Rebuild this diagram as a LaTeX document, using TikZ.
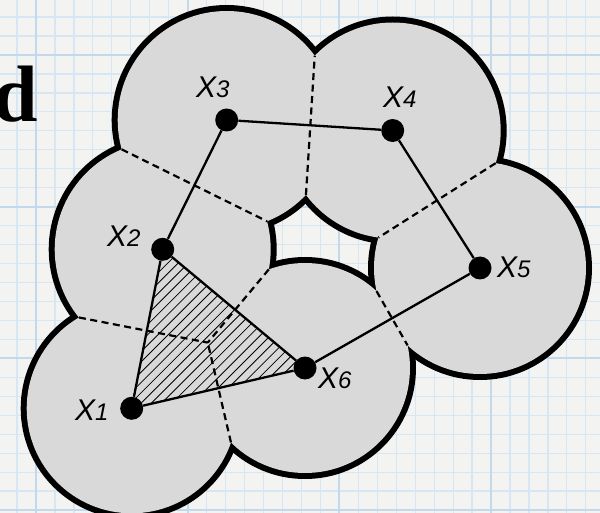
\documentclass[tikz,border=0pt]{standalone}
\usepackage{fontspec}
\setmainfont{Liberation Sans}
\newfontfamily\titlefont{Liberation Serif}
\usetikzlibrary{calc,intersections}
\definecolor{paper}{RGB}{243,243,242}
\definecolor{gridminor}{RGB}{214,230,242}
\definecolor{gridmajor}{RGB}{194,217,236}
\definecolor{diskgray}{RGB}{217,217,217}
\newcommand\xlab[1]{{\fontsize{30}{30}\selectfont\itshape X}{\fontsize{24}{24}\selectfont\itshape #1}}
\begin{document}
\begin{tikzpicture}[x=1pt,y=-1pt,
  minorline/.style={draw=gridminor,line width=1.2pt},
  majorline/.style={draw=gridmajor,line width=2pt},
  outline/.style={draw=black,line width=12pt},
  disk/.style={fill=diskgray},
  link/.style={line width=2.3pt},
  voronoi/.style={line width=2.2pt,dash pattern=on 7pt off 4.5pt},
  hatch/.style={line width=0.8pt},
  dot/.style={circle,fill=black,inner sep=0pt,minimum size=23pt},
  lab/.style={inner sep=0pt,anchor=base west}]
\useasboundingbox (0,0) rectangle (600,513);
\fill[paper] (0,0) rectangle (600,513);
% grid
\foreach \k in {-2,...,31}{
  \draw[minorline] ({36+18.96*\k},0) -- ({36+18.96*\k},513);
  \draw[minorline] (0,{55+18.96*\k}) -- (600,{55+18.96*\k});
}
\foreach \k in {0,8,16,24}{
  \draw[majorline] ({36+18.96*\k},0) -- ({36+18.96*\k},513);
  \draw[majorline] (0,{55+18.96*\k}) -- (600,{55+18.96*\k});
}
% sites
\coordinate (p1) at (131.7,408.3);
\coordinate (p2) at (162.7,249.3);
\coordinate (p3) at (226.7,120);
\coordinate (p4) at (392.7,130.5);
\coordinate (p5) at (480,268);
\coordinate (p6) at (305,368);
% union of disks
\foreach \i/\r in {1/105,2/108,3/109,4/108,5/106,6/105}
  \draw[outline] (p\i) circle[radius=\r];
\foreach \i/\r in {1/105,2/108,3/109,4/108,5/106,6/105}
  \fill[disk] (p\i) circle[radius=\r];
% paths for intersections
\path[name path=C1] (p1) circle[radius=105];
\path[name path=C2] (p2) circle[radius=108];
\path[name path=C3] (p3) circle[radius=109];
\path[name path=C4] (p4) circle[radius=108];
\path[name path=C5] (p5) circle[radius=106];
\path[name path=C6] (p6) circle[radius=105];
\path[name path=A2, shift={(p2)}] plot[domain=120:170,samples=60] (\x:108);
\path[name path=B2, shift={(p2)}] plot[domain=-30:35,samples=60] (\x:108);
\path[name path=A1, shift={(p1)}] plot[domain=-10:60,samples=60] (\x:105);
\path[name intersections={of=C2 and C3, by={i23a,i23b}}];
\path[name intersections={of=C3 and C4, by={i34a,i34b}}];
\path[name intersections={of=C4 and C5, by={i45a,i45b}}];
\path[name intersections={of=C5 and C6, by={i56a,i56b}}];
\path[name intersections={of=C1 and C2, by={j12a,j12b}}];
\path[name intersections={of=C1 and C6, by={j16a,j16b}}];
\path[name intersections={of=C1 and A2, by=o12}];
\path[name intersections={of=C6 and B2, by=o26}];
\path[name intersections={of=C6 and A1, by=o16}];
\coordinate (v) at (intersection of j12a--j12b and j16a--j16b);
% hatched triangle
\begin{scope}
  \clip (p1) -- (p2) -- (p6) -- cycle;
  \foreach \c in {400,410.3,...,700}
    \draw[hatch] ({\c-460},460) -- ({\c-220},220);
\end{scope}
% cell boundaries
\draw[voronoi] (i23a) -- (i23b);
\draw[voronoi] (i34a) -- (i34b);
\draw[voronoi] (i45a) -- (i45b);
\draw[voronoi] (i56a) -- (i56b);
\draw[voronoi] (o12) -- (v);
\draw[voronoi] (o26) -- (v);
\draw[voronoi] (o16) -- (v);
% points
\foreach \i in {1,...,6} \node[dot] (x\i) at (p\i) {};
\draw[link] (x1) -- (x2) -- (x3) -- (x4) -- (x5) -- (x6) -- (x1);
\draw[link] (x2) -- (x6);
% labels
\node[lab] (l1) at (75,420) {\xlab{1}};
\node[lab] (l2) at (107,247) {\xlab{2}};
\node[lab] (l3) at (196,98) {\xlab{3}};
\node[lab] (l4) at (383,108) {\xlab{4}};
\node[lab] (l5) at (497,277) {\xlab{5}};
\node[lab] (l6) at (318,388) {\xlab{6}};
% title fragment
\node[inner sep=0pt,anchor=base east,font={\titlefont\bfseries\fontsize{80}{80}\selectfont}] (ttl) at (38,122) {d};
\end{tikzpicture}
\end{document}
